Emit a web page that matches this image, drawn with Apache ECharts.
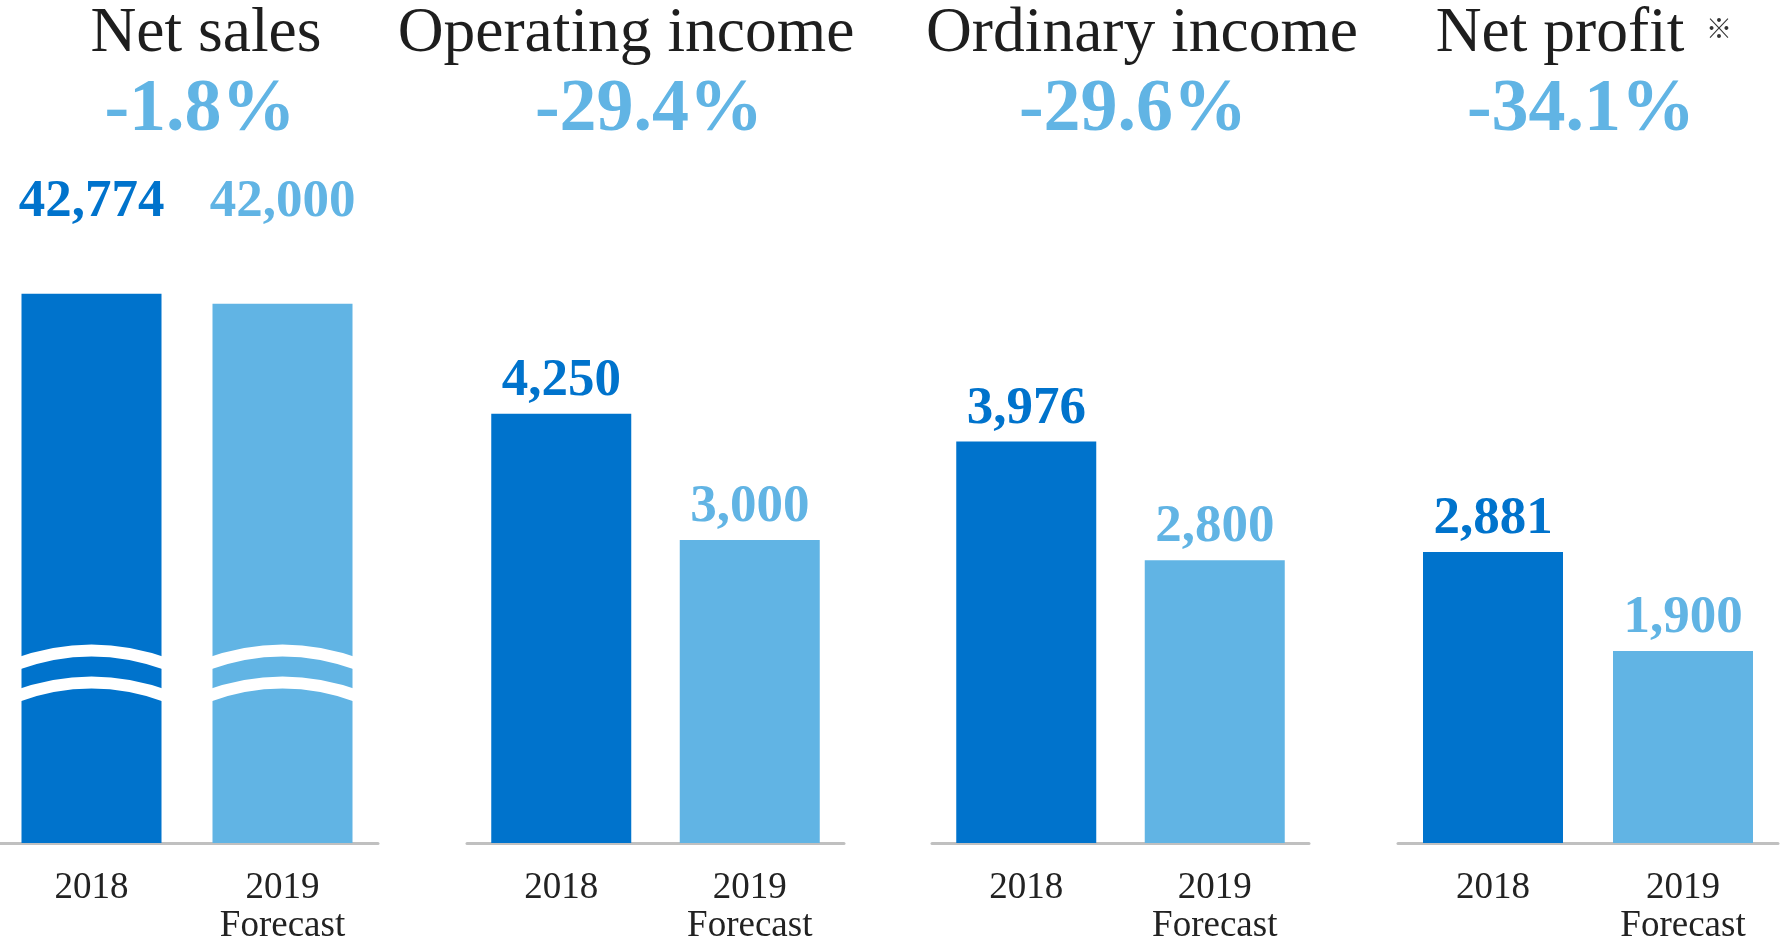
<!DOCTYPE html>
<html>
<head>
<meta charset="utf-8">
<title>Results forecast</title>
<script src="https://cdn.jsdelivr.net/npm/echarts@6/dist/echarts.min.js"></script>
<style>
html,body{margin:0;padding:0;background:#fff;}
#chart{width:1781px;height:939px;}
</style>
</head>
<body>
<div id="chart"></div>
<script>
// data
var categories = ['2018', '2019\nForecast'];
var metrics = ['Net sales', 'Operating income', 'Ordinary income', 'Net profit'];
var result2018 = [42774, 4250, 3976, 2881];
var forecast2019 = [42000, 3000, 2800, 1900];

var DARK = '#0073cc', LIGHT = '#61b4e4';
var SERIF = '"Liberation Serif", "Times New Roman", serif';

// layout of the four panels
var gridLeft = [-4, 467, 932, 1398];
var gridWidth = [382, 377, 377, 380];
var gridTop = [201, 338, 338, 338];
var axisMax = [50000, 5000, 5000, 5000];
var titleX = [206, 626, 1142, 1560];
var pctX = [200, 649, 1133, 1581];
// where the white "broken axis" bands cross the net sales bars
var breakLevels = [15000, 12500];

function fmt(v){ return v.toLocaleString('en-US'); }
function pct(i){ return ((forecast2019[i] - result2018[i]) / result2018[i] * 100).toFixed(1) + '%'; }

var grids = [], xAxes = [], yAxes = [], series = [], graphics = [];

metrics.forEach(function(name, i){
    grids.push({
        left: gridLeft[i], width: gridWidth[i], top: gridTop[i], bottom: 96,
        containLabel: false, outerBoundsMode: 'none'
    });
    xAxes.push({
        type: 'category', gridIndex: i, data: categories,
        axisLine: {lineStyle: {color: '#c0c0c0', width: 3}},
        axisTick: {show: false},
        axisLabel: {fontFamily: SERIF, fontSize: 37, lineHeight: 38, color: '#222', margin: 26}
    });
    yAxes.push({
        type: 'value', gridIndex: i, min: 0, max: axisMax[i], interval: axisMax[i] / 5,
        show: false, splitLine: {show: false}
    });
    series.push({
        type: 'bar', name: name, xAxisIndex: i, yAxisIndex: i, barWidth: 140,
        data: [
            {value: result2018[i], itemStyle: {color: DARK}, label: {color: DARK}},
            {value: forecast2019[i], itemStyle: {color: LIGHT}, label: {color: LIGHT}}
        ],
        label: {
            show: i > 0, position: 'top', distance: 6,
            fontFamily: SERIF, fontWeight: 'bold', fontSize: 53, lineHeight: 53,
            formatter: function(p){ return fmt(p.value); }
        }
    });
    graphics.push({
        type: 'text', x: titleX[i], y: 34,
        style: {text: name, font: '63.5px ' + SERIF, fill: '#1e1e1e', align: 'center', verticalAlign: 'middle'}
    });
    graphics.push({
        type: 'text', x: pctX[i], y: 111,
        style: {text: pct(i), font: 'bold 74px ' + SERIF, fill: LIGHT, align: 'center', verticalAlign: 'middle'}
    });
});

// footnote mark after "Net profit"
graphics.push({
    type: 'text', x: 1719, y: 28,
    style: {text: '※', font: '26px "Noto Sans CJK JP"', fill: '#333', align: 'center', verticalAlign: 'middle'}
});

// net sales: break bands on the bars and value labels in a fixed row
series.push({
    type: 'custom', xAxisIndex: 0, yAxisIndex: 0, z: 5, clip: false,
    data: [[0, result2018[0]], [1, forecast2019[0]]],
    renderItem: function(params, api){
        var idx = api.value(0);
        var base = api.coord([idx, 0]);
        var top = api.coord([idx, axisMax[0]]);
        var cx = base[0], hw = 76, sag = 14;
        var children = breakLevels.map(function(lvl){
            var yc = api.coord([idx, lvl])[1];
            var yEnd = yc + sag;
            return {
                type: 'bezierCurve',
                shape: {x1: cx - hw, y1: yEnd, x2: cx + hw, y2: yEnd, cpx1: cx, cpy1: 2 * yc - yEnd},
                style: {stroke: '#fff', lineWidth: 12, fill: null}
            };
        });
        children.push({
            type: 'text', x: cx, y: top[1] + 1,
            style: {
                text: fmt(api.value(1)), font: 'bold 53px ' + SERIF,
                fill: idx === 0 ? DARK : LIGHT, align: 'center', verticalAlign: 'middle'
            }
        });
        return {type: 'group', children: children};
    }
});

var myChart = echarts.init(document.getElementById('chart'));
myChart.setOption({
    animation: false,
    backgroundColor: '#fff',
    grid: grids,
    xAxis: xAxes,
    yAxis: yAxes,
    series: series,
    graphic: graphics
});
</script>
</body>
</html>
